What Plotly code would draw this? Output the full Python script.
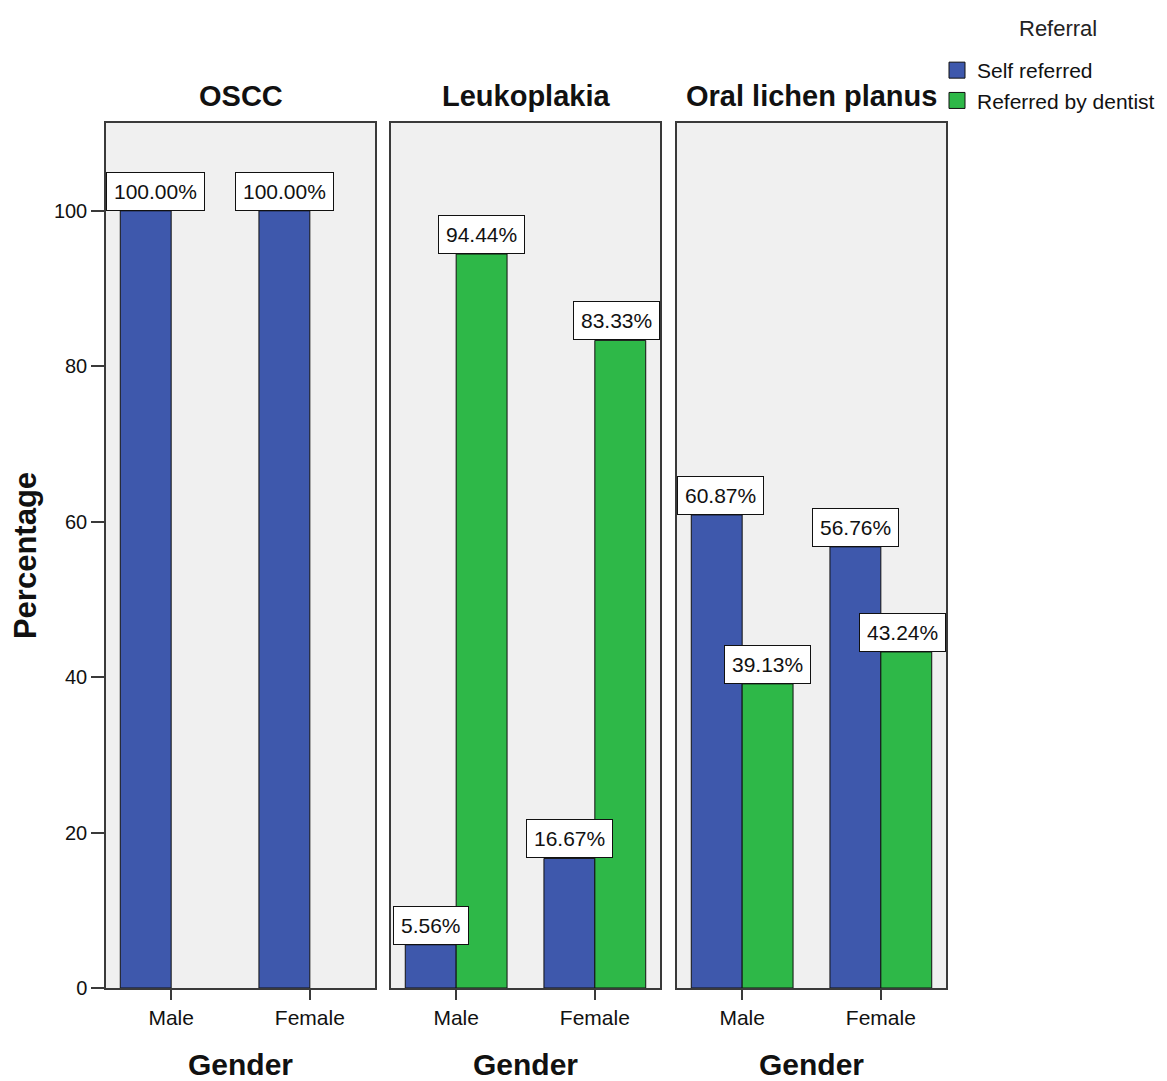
import plotly.graph_objects as go

# ---------------- data ----------------
panels = ["OSCC", "Leukoplakia", "Oral lichen planus"]
genders = ["Male", "Female"]
series_names = ["Self referred", "Referred by dentist"]
legend_title = "Referral"

oscc_self = [100.00, 100.00]
oscc_dentist = [None, None]
leuk_self = [5.56, 16.67]
leuk_dentist = [94.44, 83.33]
olp_self = [60.87, 56.76]
olp_dentist = [39.13, 43.24]

panel_values = [
    (oscc_self, oscc_dentist),
    (leuk_self, leuk_dentist),
    (olp_self, olp_dentist),
]

yticks = [0, 20, 40, 60, 80, 100]

# ---------------- styles ----------------
FONT = "Liberation Sans, Arial, sans-serif"
BLUE = "#3E58AC"
GREEN = "#2EB848"
colors = [BLUE, GREEN]
PANEL_BG = "#F0F0F0"
LINE = "#3a3a3a"
TXT = "#111111"

# page body has an 8px margin; the figure is offset by it
W, H = 1159, 1073
ML, MR, MT, MB = 98, 221, 115, 93
plot_w = W - ML - MR
plot_h = H - MT - MB
domains = [[0, 269 / plot_w], [285 / plot_w, 554 / plot_w], [571 / plot_w, 1.0]]
xrange_ = [-0.47, 1.47]
yrange_ = [0, 111.3]
bar_w = 0.367
offsets = [-bar_w, 0.0]
label_font = 21
label_pad = 7

fig = go.Figure()
annotations = []

for p, (name, vals) in enumerate(zip(panels, panel_values)):
    xa = "x" if p == 0 else f"x{p + 1}"
    ya = "y" if p == 0 else f"y{p + 1}"
    px_per_unit = plot_w * (domains[p][1] - domains[p][0]) / (xrange_[1] - xrange_[0])
    for s, series in enumerate(vals):
        fig.add_trace(go.Bar(
            x=genders, y=series, name=series_names[s],
            width=bar_w, offset=offsets[s],
            marker=dict(color=colors[s], line=dict(color=TXT, width=1)),
            xaxis=xa, yaxis=ya, showlegend=False,
        ))
        for g, v in enumerate(series):
            if v is None:
                continue
            txt = f"{v:.2f}%"
            cx = g + offsets[s] + bar_w / 2
            box_w = len(txt) * 0.58 * label_font + 2 * label_pad + 2
            half = box_w / 2 / px_per_unit
            xanchor = "center"
            if cx - half < xrange_[0]:
                cx, xanchor = xrange_[0], "left"
            elif cx + half > xrange_[1]:
                cx, xanchor = xrange_[1], "right"
            annotations.append(dict(
                x=cx, y=v, xref=xa, yref=ya, text=txt, showarrow=False,
                xanchor=xanchor, yanchor="bottom",
                font=dict(family=FONT, size=label_font, color=TXT),
                bgcolor="white", bordercolor=TXT, borderwidth=1,
                borderpad=label_pad,
            ))
    # facet header
    annotations.append(dict(
        x=0.5, y=1, xref=f"{xa} domain", yref=f"{ya} domain",
        text=f"<b>{name}</b>", showarrow=False, xanchor="center", yanchor="bottom",
        yshift=9, font=dict(family=FONT, size=29, color=TXT),
    ))

# legend title
annotations.append(dict(
    x=(1058 - 8 - ML) / plot_w, y=1 + (MT - 20) / plot_h,
    xref="paper", yref="paper", text=legend_title, showarrow=False,
    xanchor="center", yanchor="middle",
    font=dict(family=FONT, size=22, color="#222222"),
))

# legend proxies
for s in range(2):
    fig.add_trace(go.Scatter(
        x=[None], y=[None], mode="markers", name=series_names[s],
        marker=dict(symbol="square", size=16, color=colors[s],
                    line=dict(color=TXT, width=1)),
        xaxis="x", yaxis="y", showlegend=True,
    ))

layout = dict(
    width=W, height=H,
    margin=dict(l=ML, r=MR, t=MT, b=MB, autoexpand=False),
    paper_bgcolor="white",
    plot_bgcolor=PANEL_BG,
    barmode="overlay",
    font=dict(family=FONT, color=TXT),
    annotations=annotations,
    legend=dict(
        x=1 + (937 - 8 - ML - plot_w) / plot_w, xanchor="left",
        y=1.0844, yanchor="top",
        font=dict(family=FONT, size=21, color=TXT),
        bgcolor="rgba(0,0,0,0)", borderwidth=0,
        tracegroupgap=0,
    ),
)

for p in range(3):
    xk = "xaxis" if p == 0 else f"xaxis{p + 1}"
    yk = "yaxis" if p == 0 else f"yaxis{p + 1}"
    ya_name = "y" if p == 0 else f"y{p + 1}"
    xa_name = "x" if p == 0 else f"x{p + 1}"
    layout[xk] = dict(
        domain=domains[p], anchor=ya_name, type="category",
        categoryorder="array", categoryarray=genders,
        range=xrange_, showgrid=False, zeroline=False,
        showline=True, mirror=True, linecolor=LINE, linewidth=1.5,
        ticks="outside", ticklen=10, tickcolor=LINE, tickwidth=1.5,
        tickfont=dict(family=FONT, size=21, color=TXT),
        title=dict(text="<b>Gender</b>", standoff=28,
                   font=dict(family=FONT, size=30, color=TXT)),
        automargin=False, fixedrange=True,
    )
    ydict = dict(
        domain=[0, 1], anchor=xa_name, range=yrange_,
        showgrid=False, zeroline=False,
        showline=True, mirror=True, linecolor=LINE, linewidth=1.5,
        automargin=False, fixedrange=True,
    )
    if p == 0:
        ydict.update(
            tickmode="array", tickvals=yticks, ticktext=[str(t) for t in yticks],
            ticks="outside", ticklen=13, tickcolor=LINE, tickwidth=1.5,
            tickfont=dict(family=FONT, size=20, color=TXT),
            title=dict(text="<b>Percentage</b>", standoff=20,
                       font=dict(family=FONT, size=31, color=TXT)),
        )
    else:
        ydict.update(showticklabels=False, ticks="", matches="y")
    layout[yk] = ydict

fig.update_layout(**layout)
fig.write_html("out.html")
